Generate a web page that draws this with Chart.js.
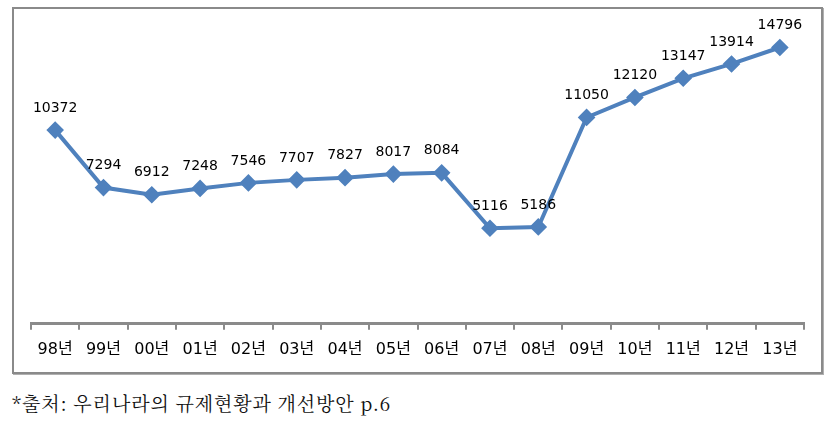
<!DOCTYPE html>
<html><head><meta charset="utf-8">
<script src="https://cdn.jsdelivr.net/npm/chart.js@4/dist/chart.umd.min.js"></script>
<style>
html,body{margin:0;padding:0;background:#fff;width:831px;height:428px;overflow:hidden;}
#box{position:absolute;left:12px;top:7px;width:807px;height:363px;border:2px solid #8a8a8a;box-shadow:1px 1px 0 #b0b0b0;}
#box canvas{display:block;}
#src{position:absolute;left:12px;top:389px;font-family:"Noto Serif CJK KR","Noto Sans CJK KR",serif;font-size:19px;letter-spacing:0.9px;color:#111;white-space:nowrap;}
</style></head><body>
<div id="box"><canvas id="c" width="807" height="363"></canvas></div>
<div id="src">*출처: 우리나라의 규제현황과 개선방안 p.6</div>
<script>
const categories = ["98년","99년","00년","01년","02년","03년","04년","05년","06년","07년","08년","09년","10년","11년","12년","13년"];
const values = [10372,7294,6912,7248,7546,7707,7827,8017,8084,5116,5186,11050,12120,13147,13914,14796];
const yMin = 0, yMax = 16000;

const labelPlugin = {
  id:'valueLabels',
  afterDatasetsDraw(chart){
    const ctx = chart.ctx;
    const meta = chart.getDatasetMeta(0);
    ctx.save();
    ctx.font = '14px "DejaVu Sans", "Noto Sans CJK KR", sans-serif';
    ctx.fillStyle = '#000';
    ctx.textAlign = 'center';
    ctx.textBaseline = 'middle';
    meta.data.forEach((pt,i)=>{
      ctx.fillText(String(chart.data.datasets[0].data[i]), pt.x, pt.y - 22);
    });
    ctx.restore();
  }
};

new Chart(document.getElementById('c'), {
  type:'line',
  data:{labels:categories, datasets:[{
    data:values,
    borderColor:'#4F81BD', backgroundColor:'#4F81BD',
    borderWidth:4, pointStyle:'rectRot', pointRadius:6, pointHoverRadius:6,
    tension:0, fill:false
  }]},
  options:{
    responsive:false, animation:false,
    layout:{padding:{left:17,right:17,top:16,bottom:3}},
    plugins:{legend:{display:false},tooltip:{enabled:false}},
    scales:{
      y:{display:false,min:yMin,max:yMax},
      x:{
        offset:true,
        border:{display:true,color:'#8a8a8a',width:3},
        grid:{display:true,drawOnChartArea:false,drawTicks:true,tickLength:6,color:'#8a8a8a',lineWidth:2,offset:true},
        ticks:{color:'#000',padding:10,font:{size:16,family:'"DejaVu Sans", "Noto Sans CJK KR", sans-serif'},maxRotation:0,autoSkip:false}
      }
    }
  },
  plugins:[labelPlugin]
});
</script>
</body></html>
